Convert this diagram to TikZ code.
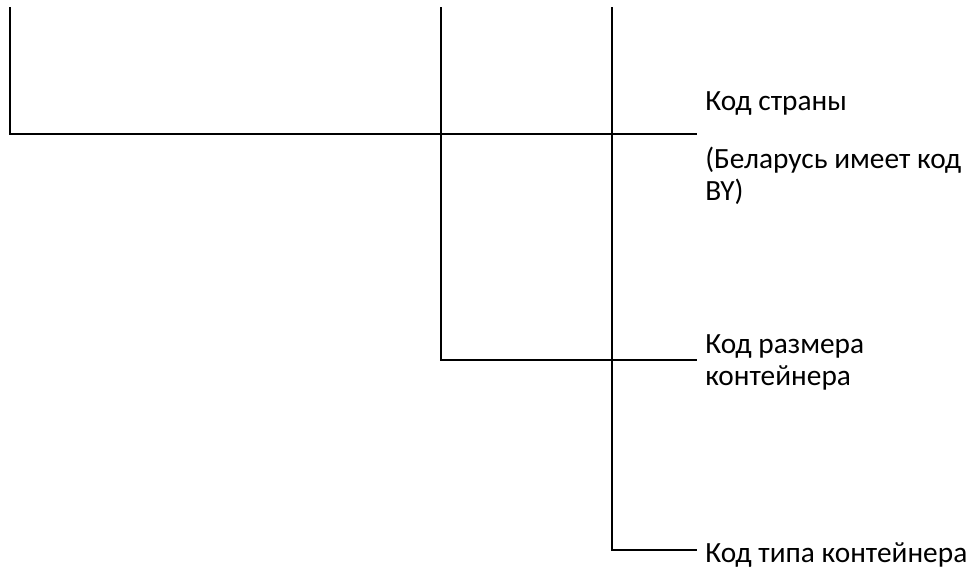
\documentclass[tikz,border=0pt]{standalone}
\usepackage{fontspec}
\setmainfont{Carlito}
\usetikzlibrary{calc}

\begin{document}
\begin{tikzpicture}[x=0.75pt,y=-0.75pt,
  branch/.style={line width=1.5pt},
  codetext/.style={inner sep=0pt, anchor=base west, align=left,
    font=\fontsize{22}{23.5}\selectfont}]
\useasboundingbox (0,0) rectangle (975,569);

% Define tops of the branches
\coordinate (top1) at (10,7);
\coordinate (top2) at (441,7);
\coordinate (top3) at (612,7);

% Define free ends next to the labels
\coordinate (end1) at (697,134);
\coordinate (end2) at (697,360);
\coordinate (end3) at (697,550);

% Draw branches
\draw[branch] (top1) |- (end1);
\draw[branch] (top2) |- (end2);
\draw[branch] (top3) |- (end3);

% Labels (base = baseline of the last line)
\node[codetext] (country) at (705,110) {Код страны};
\node[codetext] (countrynote) at (705,200) {(Беларусь имеет код\\BY)};
\node[codetext] (size) at (705,385) {Код размера\\контейнера};
\node[codetext] (type) at (705,562) {Код типа контейнера};

\end{tikzpicture}
\end{document}
